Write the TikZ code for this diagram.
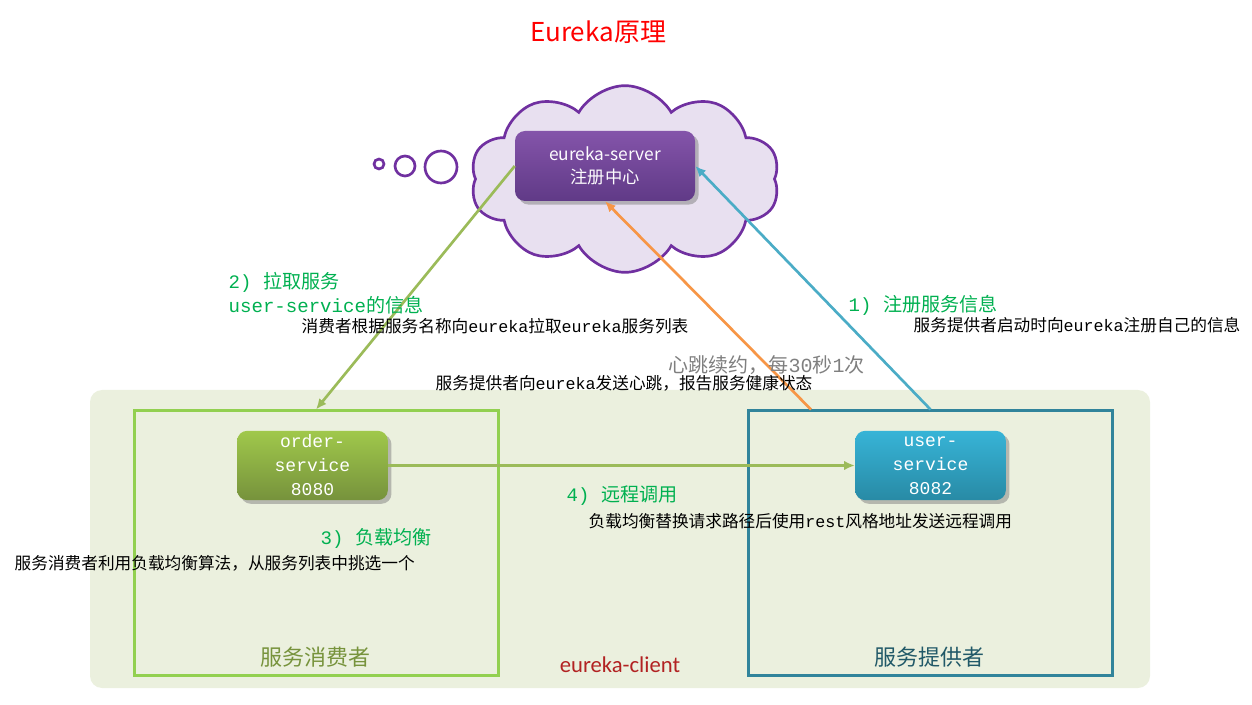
\documentclass[tikz,border=0pt]{standalone}
\usepackage{fontspec}
\setmainfont{Noto Sans CJK SC}
\newfontfamily\codefont{Liberation Mono}
\newfontfamily\clientfont{Carlito}
\usepackage{tikz}
\usetikzlibrary{shapes}
\usetikzlibrary{shadows}
\usetikzlibrary{arrows.meta}

\definecolor{titlered}{RGB}{255,0,0}
\definecolor{stepgreen}{RGB}{0,176,80}
\definecolor{beatgray}{RGB}{127,127,127}
\definecolor{clientbg}{RGB}{235,240,222}
\definecolor{consumerline}{RGB}{146,208,80}
\definecolor{providerline}{RGB}{49,132,155}
\definecolor{consumertext}{RGB}{119,147,60}
\definecolor{providertext}{RGB}{33,89,104}
\definecolor{clientred}{RGB}{178,34,34}
\definecolor{cloudfill}{RGB}{232,224,240}
\definecolor{cloudline}{RGB}{112,48,160}
\definecolor{pullgreen}{RGB}{155,187,89}
\definecolor{beatorange}{RGB}{247,150,70}
\definecolor{regblue}{RGB}{75,172,198}
\definecolor{ordertop}{RGB}{160,200,75}
\definecolor{orderbottom}{RGB}{118,146,60}
\definecolor{usertop}{RGB}{55,180,215}
\definecolor{userbottom}{RGB}{40,138,165}
\definecolor{servertop}{RGB}{132,84,170}
\definecolor{serverbottom}{RGB}{96,58,135}

\begin{document}
\begin{tikzpicture}[x=0.75pt, y=-0.75pt,
    svc/.style={rounded corners=7.5pt, minimum width=113pt, minimum height=52pt,
      inner sep=0pt, align=center, text=white, drop shadow,
      font=\codefont\fontsize{13.5}{18}\selectfont},
    group/.style={draw, line width=2.25pt, minimum width=273pt, minimum height=198pt},
    numlabel/.style={anchor=west, text=stepgreen, font=\fontsize{14.3}{17}\selectfont},
    note/.style={anchor=west, font=\fontsize{12.5}{15}\selectfont},
    flow/.style={line width=2pt, -{Latex[length=8pt,width=7pt]}}]
\useasboundingbox (0,0) rectangle (1252,705);

%%% eureka-client %%%

      \fill[clientbg, rounded corners=9pt] (90,390) rectangle (1150,688);
      \node[group, draw=consumerline] (consumer) at (316,543) {};
      \node[group, draw=providerline] (provider) at (930.5,543) {};
      %%
      \node[svc, top color=ordertop, bottom color=orderbottom] (order) at (312.5,465.5)
        { order-\\service\\8080 };
      \node[svc, top color=usertop, bottom color=userbottom] (user) at (930.5,465.5)
        { user-\\service\\8082 };
      %%
      \node[text=consumertext, font=\fontsize{16.5}{18}\selectfont] (consumerlbl) at (315,657) { 服务消费者 };
      \node[text=providertext, font=\fontsize{16.5}{18}\selectfont] (providerlbl) at (929,657) { 服务提供者 };
      \node[text=clientred, font=\clientfont\fontsize{17}{18}\selectfont] (client) at (620,665) { eureka-client };

%%% eureka-server %%%

      \node[cloud, cloud puffs=10, cloud puff arc=120, aspect=1.65, draw=cloudline, fill=cloudfill,
        line width=2pt, minimum width=232pt, minimum height=140pt, inner sep=0pt] (cloud) at (625,179) {};
      \draw[cloudline, line width=2pt, fill=white] (379,164) circle (3.75pt);
      \draw[cloudline, line width=2pt, fill=white] (405,166) circle (7.5pt);
      \draw[cloudline, line width=2pt, fill=white] (441,167) circle (12pt);
      \node[svc, top color=servertop, bottom color=serverbottom, minimum width=135pt,
        minimum height=52.5pt, text=white!92!cloudfill, font=\fontsize{13}{17}\selectfont] (server)
        at (605,166) { eureka-server\\注册中心 };

%%% connectors %%%

      \draw[flow, pullgreen] (server.west) -- (consumer.north);
      \draw[flow, beatorange] ([xshift=48pt]provider.north west) -- (server.south);
      \draw[flow, regblue] (provider.north) -- (server.east);
      \draw[flow, pullgreen] (order.east) -- (user.west);

%%% texts %%%

      \node[text=titlered, font=\fontsize{19.5}{22}\selectfont] (title) at (598,32) { Eureka原理 };
      %%
      \node[numlabel] (pull) at (224,282) { {\codefont 2) }拉取服务 };
      \node[numlabel] (pullsvc) at (224,305) { {\codefont user-service}的信息 };
      \node[note] (pullnote) at (297,326) { 消费者根据服务名称向{\codefont eureka}拉取{\codefont eureka}服务列表 };
      %%
      \node[numlabel, text=beatgray, font=\fontsize{15}{18}\selectfont] (beat) at (664,365)
        { 心跳续约，每{\codefont 30}秒{\codefont 1}次 };
      \node[note] (beatnote) at (431,383) { 服务提供者向{\codefont eureka}发送心跳，报告服务健康状态 };
      %%
      \node[numlabel] (reg) at (844,305) { {\codefont 1) }注册服务信息 };
      \node[note] (regnote) at (909,325) { 服务提供者启动时向{\codefont eureka}注册自己的信息 };
      %%
      \node[numlabel] (lb) at (316,538) { {\codefont 3) }负载均衡 };
      \node[note] (lbnote) at (10,563) { 服务消费者利用负载均衡算法，从服务列表中挑选一个 };
      %%
      \node[numlabel] (call) at (562,496) { {\codefont 4) }远程调用 };
      \node[note] (callnote) at (584,521) { 负载均衡替换请求路径后使用{\codefont rest}风格地址发送远程调用 };

\end{tikzpicture}
\end{document}
